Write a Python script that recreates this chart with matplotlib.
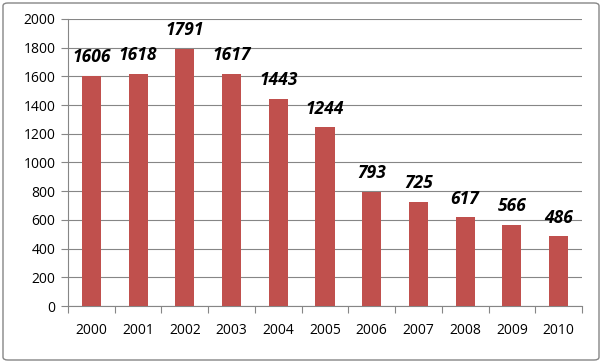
import matplotlib
matplotlib.use("Agg")
import matplotlib.pyplot as plt
from matplotlib.patches import FancyBboxPatch

years = ["2000", "2001", "2002", "2003", "2004", "2005",
         "2006", "2007", "2008", "2009", "2010"]
values = [1606, 1618, 1791, 1617, 1443, 1244, 793, 725, 617, 566, 486]
y_ticks = list(range(0, 2001, 200))

plt.rcParams['font.family'] = ['Open Sans', 'DejaVu Sans']

fig = plt.figure(figsize=(6.02, 3.63), dpi=100)
ax = fig.add_axes([68 / 602, 57 / 363, 514 / 602, 287 / 363])

x = range(len(years))
bars = ax.bar(x, values, width=0.41, color="#C0504D", zorder=3)

for xi, v in zip(x, values):
    ax.annotate(str(v), (xi, v), xytext=(0, 7), textcoords="offset points",
                ha="center", va="bottom", fontsize=12.5,
                fontweight="bold", fontstyle="italic", color="black")

ax.set_xlim(-0.5, len(years) - 0.5)
ax.set_ylim(0, 2000)
ax.set_yticks(y_ticks)
ax.set_xticks([i - 0.5 for i in range(len(years) + 1)], minor=False)
ax.set_xticklabels([])
ax.set_xticks(list(x), minor=True)
ax.set_xticklabels(years, minor=True)
ax.tick_params(axis="x", which="minor", length=0, pad=12, labelsize=10)
ax.tick_params(axis="x", which="major", length=5, color="#868686")
ax.tick_params(axis="y", length=5, color="#868686", labelsize=10, pad=4)

ax.grid(axis="y", color="#868686", linewidth=0.8, zorder=0)
for side in ["top", "right"]:
    ax.spines[side].set_visible(False)
for side in ["left", "bottom"]:
    ax.spines[side].set_color("#868686")

border = FancyBboxPatch((3 / 602, 3 / 363), 596 / 602, 357 / 363,
                        boxstyle="round,pad=0,rounding_size=0.008",
                        transform=fig.transFigure, fill=False,
                        edgecolor="#868686", linewidth=1)
fig.patches.append(border)

fig.savefig("out.png", dpi=100)
